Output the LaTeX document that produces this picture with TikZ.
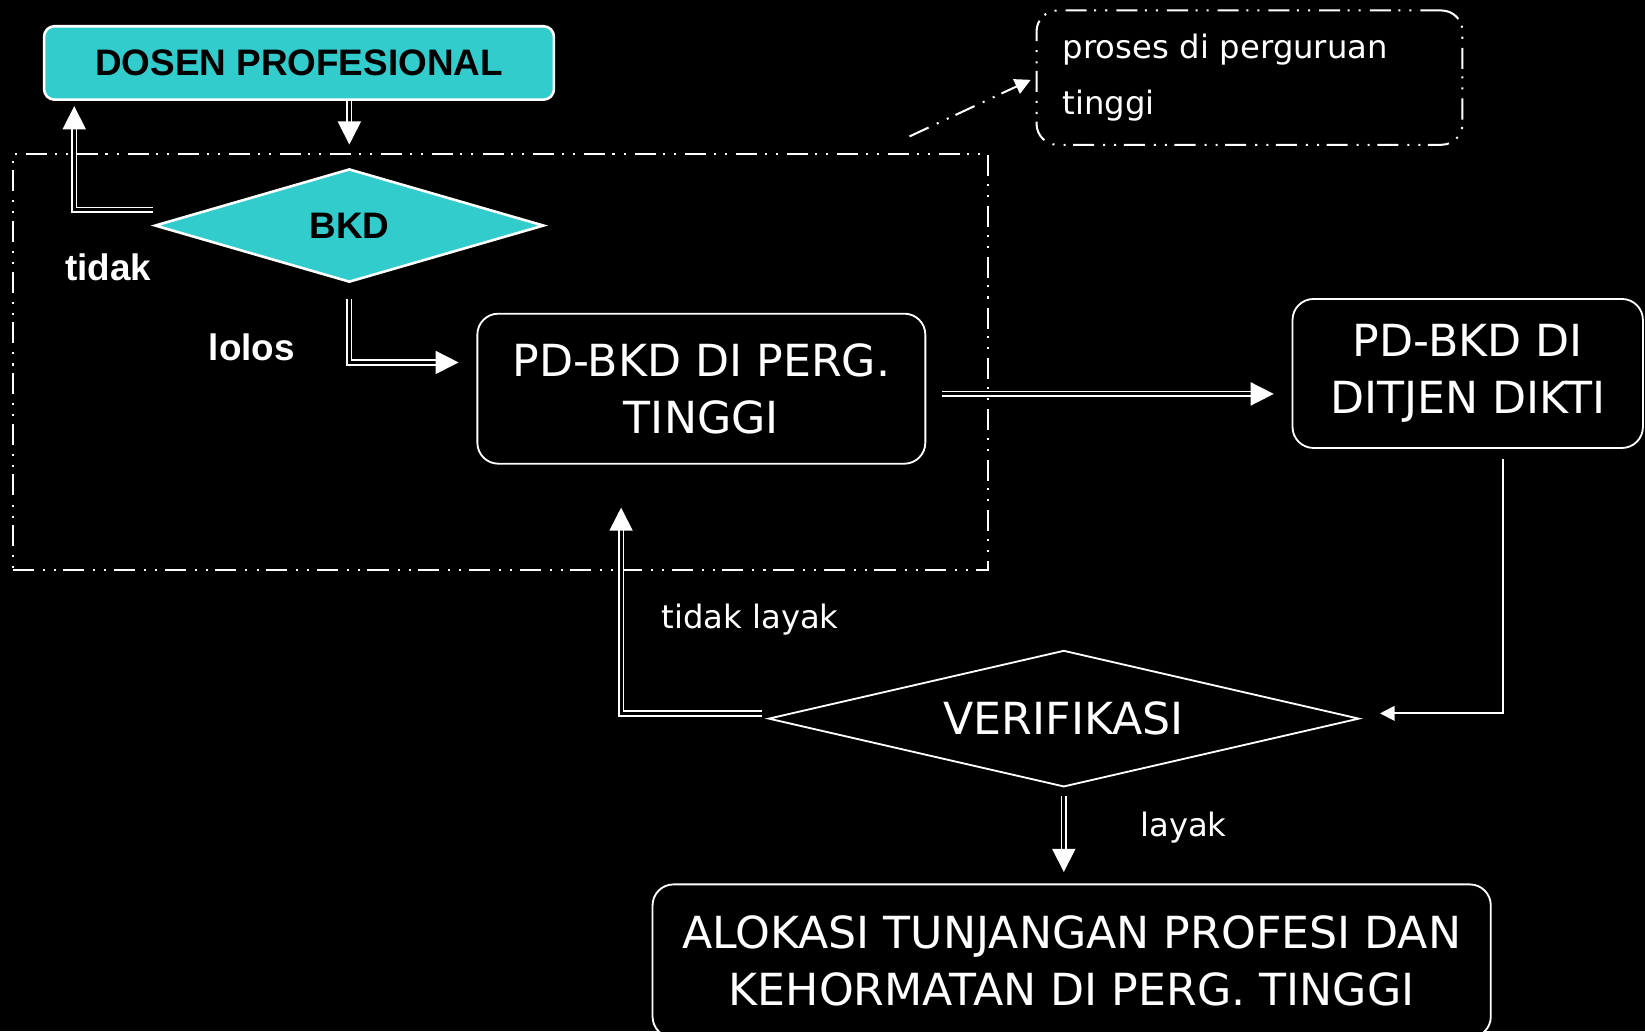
\documentclass[tikz,border=0pt]{standalone}
\usepackage{fontspec}
\setmainfont{DejaVu Sans}
\newfontfamily\arialfont{Liberation Sans}
\usetikzlibrary{arrows.meta,positioning,calc,shapes.geometric}
\definecolor{bg}{HTML}{000000}
\definecolor{ink}{HTML}{FFFFFF}
\definecolor{teal}{HTML}{33CCCC}
\tikzset{
  dashdotdot/.style={dash pattern=on 11.4pt off 4.9pt on 1.1pt off 4.9pt on 1.1pt off 4.1pt},
  dblflow/.style={-{Triangle[length=4.4mm,width=4.4mm]}, draw=ink, line width=0.9pt,
                  double=bg, double distance=1.6pt},
  thinflow/.style={-{Triangle[length=2.8mm,width=2.8mm]}, draw=ink, line width=1pt},
  dotflow/.style={-{Triangle[length=3mm,width=3mm]}, draw=ink, line width=1.1pt, dashdotdot},
  frame/.style={draw=ink, line width=1.1pt, dashdotdot, inner sep=0pt},
  procbox/.style={draw=ink, fill=bg, rounded corners=4mm, line width=1pt, align=center,
                  text=ink, font=\fontsize{24}{30.7}\selectfont},
  decision/.style={diamond, draw=ink, line width=1pt, inner sep=0pt},
  boldlbl/.style={text=ink, font=\arialfont\bfseries\fontsize{20}{24}\selectfont},
  lbl/.style={text=ink, font=\fontsize{17.5}{21}\selectfont},
}
\begin{document}
\begin{tikzpicture}[x=1cm,y=1cm]

% Canvas ----------------------------------------------------------------------
\fill[bg] (0,0) rectangle (31.36,19.66);
\useasboundingbox (0,0) rectangle (31.36,19.66);
\clip (0,0) rectangle (31.36,19.66);

% Proses di perguruan tinggi -------------------------------------------------
\node[frame, minimum width=18.60cm, minimum height=7.92cm] (ptframe) at (9.54,12.76) {};

\node[frame, rounded corners=4mm, minimum width=8.12cm, minimum height=2.56cm,
      text width=7.12cm, inner xsep=5mm, align=left, text=ink,
      font=\fontsize{17.5}{30}\selectfont] (proses) at (23.82,18.18)
  {proses di perguruan\\tinggi};

\node[procbox, fill=teal, text=black, rounded corners=2mm, line width=1.4pt,
      font=\arialfont\bfseries\fontsize{20}{24}\selectfont,
      minimum width=9.72cm, minimum height=1.40cm] (dosen) at (5.70,18.46) {DOSEN PROFESIONAL};

\node[decision, aspect=3.43, fill=teal, line width=1.4pt, text=black,
      font=\arialfont\bfseries\fontsize{20}{24}\selectfont,
      minimum width=7.42cm, minimum height=2.16cm] (bkd) at (6.66,15.36) {BKD};

\node[procbox, minimum width=8.54cm, minimum height=2.86cm] (pdpt) at (13.37,12.25)
  {PD-BKD DI PERG.\\TINGGI};
\node[procbox, minimum width=6.68cm, minimum height=2.84cm] (dikti) at (27.98,12.54)
  {PD-BKD DI\\DITJEN DIKTI};

\node[boldlbl] (tidaklbl) at (2.06,14.56) {tidak};
\node[boldlbl] (loloslbl) at (4.80,13.04) {lolos};

% Verifikasi ------------------------------------------------------------------
\node[decision, aspect=4.33, fill=bg, text=ink, font=\fontsize{24}{30}\selectfont,
      minimum width=11.26cm, minimum height=2.60cm] (verif) at (20.28,5.96) {VERIFIKASI};

\node[procbox, minimum width=15.98cm, minimum height=2.92cm] (alokasi) at (20.43,1.34)
  {ALOKASI TUNJANGAN PROFESI DAN\\KEHORMATAN DI PERG. TINGGI};

\node[lbl] (tlayaklbl) at (14.30,7.84) {tidak layak};
\node[lbl] (layaklbl) at (22.56,3.88) {layak};

% Connectors ------------------------------------------------------------------
\draw[dblflow, shorten >=4.4mm] (dosen.south -| bkd.north) -- (bkd.north);
\draw[dblflow, shorten >=1mm] ([yshift=3mm]bkd.west) -| ([xshift=6mm]dosen.south west);
\draw[dblflow, shorten >=3.4mm] ([yshift=-3mm]bkd.south) |- ([yshift=5mm]pdpt.west);
\draw[dblflow, shorten <=3mm, shorten >=3.4mm] ([yshift=-1mm]pdpt.east) -- ([yshift=-1mm]pdpt.east -| dikti.west);
\draw[thinflow, shorten >=3.8mm] ([xshift=6.8mm,yshift=-2mm]dikti.south) |- ([yshift=1mm]verif.east);
\draw[dblflow, shorten >=8.2mm] ([xshift=-1mm,yshift=1mm]verif.west) -| ([xshift=-15.3mm]pdpt.south);
\draw[dblflow, shorten <=1.6mm, shorten >=2.2mm] (verif.south) -- (verif.south |- alokasi.north);

\coordinate (frametip) at ([xshift=-15.2mm,yshift=3.2mm]ptframe.north east);
\draw[dotflow, shorten >=1mm] (frametip) -- (proses.west);

\end{tikzpicture}
\end{document}
